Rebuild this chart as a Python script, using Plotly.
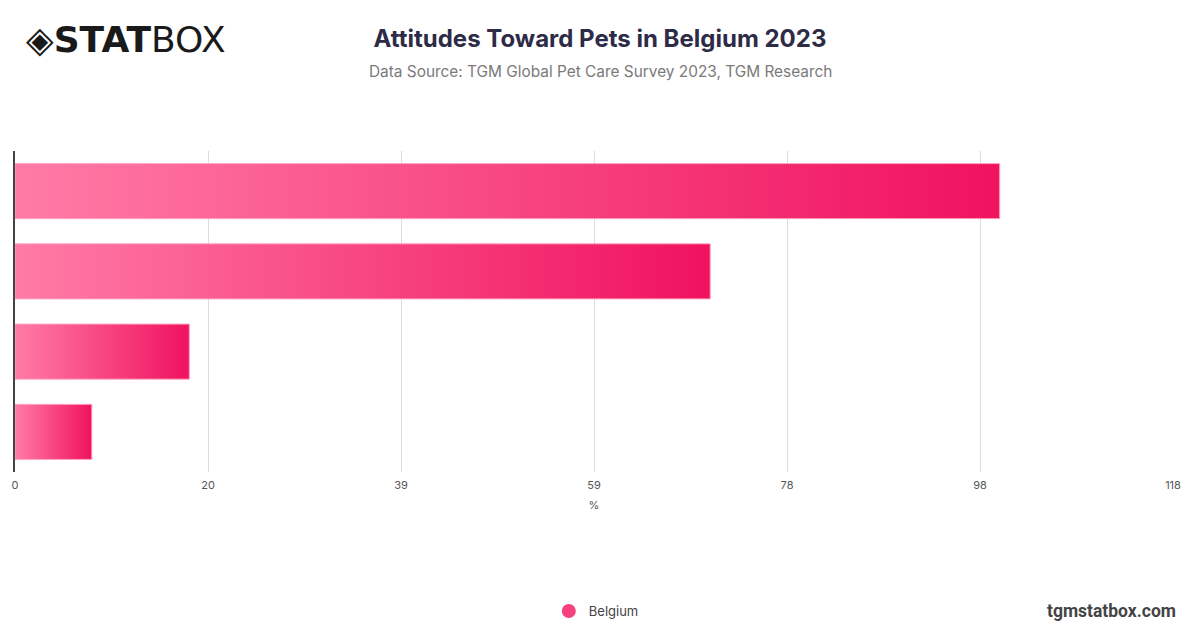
import plotly.graph_objects as go

# Values (share of respondents, %)
country = "Belgium"
values = [100.0, 70.6, 17.7, 7.8]
rows = [0, 1, 2, 3]

# Axis ticks (max 117.6 split into 6 steps)
tick_vals = [0, 19.6, 39.2, 58.8, 78.4, 98.0, 117.6]
tick_text = ["0", "20", "39", "59", "78", "98", "118"]

pink_light = "#ff7ba6"
pink_dark = "#f0125f"
half = 0.343

fig = go.Figure()

# one filled rectangle per bar so each gets its own left-to-right gradient
for r, v in zip(rows, values):
    fig.add_trace(go.Scatter(
        x=[0, v, v, 0, 0],
        y=[r - half, r - half, r + half, r + half, r - half],
        mode="lines",
        fill="toself",
        fillgradient=dict(type="horizontal",
                          colorscale=[[0, pink_light], [1, pink_dark]]),
        line=dict(color="#ffa3c0", width=1),
        hoveron="fills",
        hoverinfo="text",
        text=f"{country}: {v}%",
        showlegend=False,
    ))

# legend entry
fig.add_trace(go.Scatter(
    x=[None], y=[None], mode="markers", name=country,
    marker=dict(symbol="circle", size=14, color="#f7417f"),
))

# the page body adds an 8px offset, so margins are shifted to compensate
fig.update_layout(
    width=1200, height=628,
    paper_bgcolor="white", plot_bgcolor="white",
    margin=dict(l=7, r=35, t=143, b=164, autoexpand=False),
    font=dict(family="Inter, Roboto, sans-serif", color="#555555"),
    title=dict(
        text="<b>Attitudes Toward Pets in Belgium 2023</b>",
        x=0.4933, xanchor="center", y=0.951, yanchor="middle",
        font=dict(size=24, color="#2e2b47", family="Inter, sans-serif"),
    ),
    showlegend=True,
    legend=dict(orientation="h", x=0.502, xanchor="center", y=-0.433, yanchor="middle",
                font=dict(size=13, color="#444444")),
    xaxis=dict(
        range=[0, 117.6], tickvals=tick_vals, ticktext=tick_text,
        showgrid=True, gridcolor="#dcdcdc", gridwidth=1,
        zeroline=False, showline=False,
        ticks="outside", ticklen=3, tickcolor="rgba(0,0,0,0)",
        tickfont=dict(size=11, color="#555555"),
        title=dict(text="%", font=dict(size=11, color="#555555"), standoff=10),
    ),
    yaxis=dict(
        range=[3.5, -0.5], showticklabels=False, showgrid=False,
        zeroline=False, showline=True, linecolor="#444444", linewidth=1.5,
        ticks="",
    ),
)

fig.add_annotation(
    text="Data Source: TGM Global Pet Care Survey 2023, TGM Research",
    xref="paper", yref="paper", x=0.5052, y=1.0, yshift=80,
    xanchor="center", yanchor="middle", showarrow=False,
    font=dict(size=15.4, color="#7a7a7a", family="Inter, sans-serif"),
)

# logo
fig.add_annotation(
    text="◈<b>STAT</b>BOX", xref="paper", yref="paper",
    x=0.0, y=1.0, xshift=9, yshift=112, xanchor="left", yanchor="middle",
    showarrow=False, font=dict(size=36, color="#1a1a1a", family="DejaVu Sans"),
)

# website
fig.add_annotation(
    text="<b>tgmstatbox.com</b>", xref="paper", yref="paper",
    x=1.0, y=-0.433, xanchor="right", yanchor="middle", xshift=5,
    showarrow=False, font=dict(size=17.5, color="#444444", family="Roboto, sans-serif"),
)

fig.write_html("out.html")
